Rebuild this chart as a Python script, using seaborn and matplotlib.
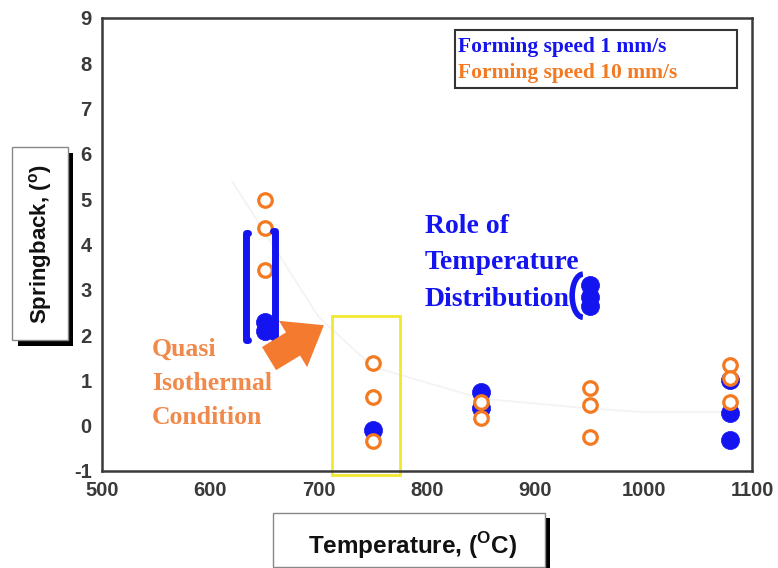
import matplotlib
matplotlib.use("Agg")
import matplotlib.pyplot as plt
import seaborn as sns
import pandas as pd
from matplotlib.patches import Rectangle, Arc
from matplotlib.lines import Line2D

# ---------------- data ----------------
temp_blue = [650, 650, 750, 850, 850, 950, 950, 950, 1080, 1080, 1080]
sb_blue = [2.3, 2.1, -0.1, 0.75, 0.4, 3.1, 2.85, 2.65, 1.0, 0.28, -0.31]
temp_orange = [650, 650, 650, 750, 750, 750, 850, 850, 950, 950, 950, 1080, 1080, 1080]
sb_orange = [4.98, 4.36, 3.44, 1.38, 0.63, -0.33, 0.52, 0.18, 0.83, 0.46, -0.25, 1.34, 1.05, 0.52]
trend_temp = [620, 700, 750, 850, 950, 1000, 1080]
trend_sb = [5.4, 2.4, 1.3, 0.6, 0.38, 0.3, 0.3]
series_names = ["Forming speed 1 mm/s", "Forming speed 10 mm/s"]
x_ticks = [500, 600, 700, 800, 900, 1000, 1100]
y_ticks = [-1, 0, 1, 2, 3, 4, 5, 6, 7, 8, 9]

BLUE = "#1414f0"
ORANGE = "#f47a22"

df_blue = pd.DataFrame({"T": temp_blue, "S": sb_blue})
df_orange = pd.DataFrame({"T": temp_orange, "S": sb_orange})
df_trend = pd.DataFrame({"T": trend_temp, "S": trend_sb})

sns.set_style("white")
plt.rcParams["font.family"] = ["Liberation Sans", "DejaVu Sans"]
plt.rcParams["mathtext.fontset"] = "custom"
plt.rcParams["mathtext.rm"] = "Liberation Sans"
plt.rcParams["mathtext.bf"] = "Liberation Sans:bold"
plt.rcParams["axes.unicode_minus"] = False

fig = plt.figure(figsize=(7.78, 5.68), dpi=100)
W, H = 778, 568
ax = fig.add_axes([102 / W, 1 - 471 / H, 650 / W, 453 / H])

# faint trend line
sns.lineplot(data=df_trend, x="T", y="S", ax=ax, color="#e6e6e6", lw=1.3,
             alpha=0.45, zorder=1)

sns.scatterplot(data=df_blue, x="T", y="S", ax=ax, color=BLUE, s=170,
                edgecolor=BLUE, linewidth=0.5, zorder=3)
sns.scatterplot(data=df_orange, x="T", y="S", ax=ax, facecolor="white",
                edgecolor=ORANGE, s=95, linewidth=2.3, zorder=4)

ax.set_xlim(500, 1100)
ax.set_ylim(-1, 9)
ax.set_xticks(x_ticks)
ax.set_yticks(y_ticks)
ax.set_xlabel("")
ax.set_ylabel("")
for lab in ax.get_xticklabels() + ax.get_yticklabels():
    lab.set_fontweight("bold")
    lab.set_fontsize(14.5)
    lab.set_color("#3a3a3a")
ax.tick_params(axis="both", direction="inout", length=9, width=1.6,
               color="#3a3a3a", pad=3)
for sp in ax.spines.values():
    sp.set_visible(True)
    sp.set_color("#3a3a3a")
    sp.set_linewidth(1.8)

# brackets at 650 (blue)
def bracket(x0, y0, y1, hook):
    ax.add_line(Line2D([x0 + hook, x0, x0, x0 + hook], [y1, y1, y0, y0],
                       color=BLUE, lw=5, zorder=5, solid_capstyle="round"))
bracket(633, 1.9, 4.25, 2)
bracket(660, 1.95, 4.3, -2)

# paren at 950
ax.add_patch(Arc((944, 2.87), 20, 0.95, theta1=110, theta2=250, color=BLUE,
                 lw=4, zorder=5))

# yellow box
ax.add_patch(Rectangle((712, -1.08), 63, 3.5, fill=False, edgecolor="#f2e830",
                       lw=2, zorder=2, clip_on=False))

# orange arrow
ax.annotate("", xy=(707, 2.25), xytext=(652, 1.45),
            arrowprops=dict(arrowstyle="simple,head_width=1.5,head_length=1.0,tail_width=0.75",
                            color="#f47a30", mutation_scale=26, lw=0),
            zorder=6)

# annotation texts
ax.text(546, 0.93, "Quasi\nIsothermal\nCondition", color="#f0894a", fontsize=18.5,
        fontweight="bold", family="Liberation Serif", ha="left", va="center",
        linespacing=1.6, zorder=5)
ax.text(798, 3.6, "Role of\nTemperature\nDistribution", color=BLUE, fontsize=20,
        fontweight="bold", family="Liberation Serif", ha="left", va="center",
        linespacing=1.6, zorder=5)

# legend-like box
ax.add_patch(Rectangle(((455 - 500 / 1) * 0 + 500 + (455 - 102) / 650 * 600, 9 - (88 - 18) / 45.3),
                       (737 - 455) / 650 * 600, (88 - 30) / 45.3,
                       fill=True, facecolor="white", edgecolor="#333333", lw=1.5,
                       zorder=6))
leg_colors = [BLUE, ORANGE]
for i, (name, col) in enumerate(zip(series_names, leg_colors)):
    ax.text((458 - 102) / 650, (471 - (47 + 26 * i)) / 453, name, color=col,
            transform=ax.transAxes, fontsize=15.5, fontweight="bold",
            family="Liberation Serif", ha="left", va="center", zorder=7)

# axis label boxes with shadows (figure pixel coords)
def fig_rect(x0, y0, x1, y1, **kw):
    fig.patches.append(Rectangle((x0 / W, 1 - y1 / H), (x1 - x0) / W, (y1 - y0) / H,
                                 transform=fig.transFigure, **kw))

fig_rect(18, 153, 73, 346, facecolor="black", edgecolor="none", zorder=1)
fig_rect(12, 147, 68, 340, facecolor="white", edgecolor="#888888", lw=1, zorder=2)
fig.text(41 / W, 1 - 244 / H, r"Springback, ($^{\mathbf{o}}$)", rotation=90,
         fontsize=16, fontweight="bold", ha="center", va="center", zorder=3,
         color="#111111")

fig_rect(279, 518, 550, 575, facecolor="black", edgecolor="none", zorder=1)
fig_rect(273, 513, 545, 567, facecolor="white", edgecolor="#888888", lw=1, zorder=2)
fig.text(412 / W, 1 - 546 / H, r"Temperature, ($^{\mathbf{O}}$C)",
         fontsize=17.5, fontweight="bold", ha="center", va="center", zorder=3,
         color="#111111")

fig.savefig("out.png", dpi=100)
